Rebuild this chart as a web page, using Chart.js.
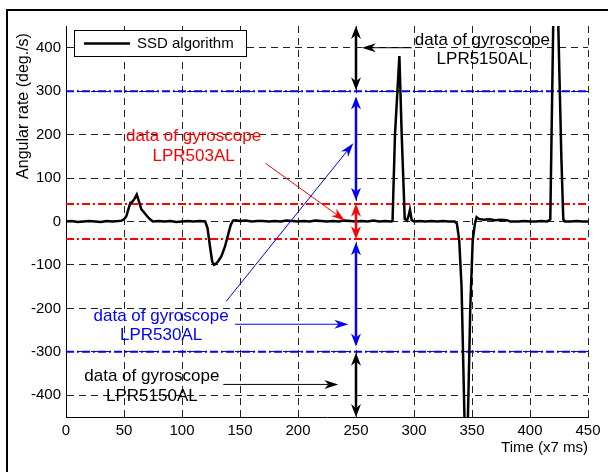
<!DOCTYPE html>
<html><head><meta charset="utf-8">
<script src="https://cdn.jsdelivr.net/npm/chart.js@4"></script>
<style>html,body{margin:0;padding:0;background:#fff;}#wrap{width:608px;height:472px;}</style>
</head><body><div id="wrap"><canvas id="c" width="608" height="472"></canvas></div>
<script>
// ---- data ----
const timeX = [
  0,5,10,15,20,25,30,35,40,45,
  48,50,52,54,55.5,57,59,61,63,65,67,70,73,75,
  80,85,90,95,100,105,110,115,
  120,122,124,126,127.5,129,131,134,137,140,142,144,146,
  150,155,160,165,170,175,180,185,190,195,200,205,210,215,220,225,230,235,240,245,250,255,260,265,270,275,280,
  281.5,283.6,287.4,289.4,292,294,295.5,296.5,298,300,
  305,310,315,320,325,330,335,
  337,339,341,343.5,345,346.5,348.5,350.6,352.5,354,356,
  360,365,370,375,380,383,390,395,400,405,410,415,
  417.5,420,422,424.4,427,428.7,430,
  435,440,445,450
];
const rateY = [
  0,1,-1,0,1,0,-1,1,0,1,
  2,5,12,30,43,45,52,62,45,28,22,12,4,0,
  1,0,1,-1,0,1,0,1,
  0,-15,-55,-92,-100,-98,-92,-80,-58,-28,-8,2,3,
  1,2,0,1,1,0,1,0,2,1,0,1,0,2,1,0,1,0,2,1,0,1,0,2,0,1,0,
  1,200,381,200,6,2,15,27,3,0,
  1,0,1,0,1,0,0,
  -5,-44,-150,-450,-600,-450,-200,-44,-5,10,6,
  4,5,3,4,3,0,0,1,0,0,1,0,
  5,450,700,450,150,5,0,
  0,1,0,0
];
const xTickValues = [0,50,100,150,200,250,300,350,400,450];
const yTickValues = [-400,-300,-200,-100,0,100,200,300,400];
const limitsLPR530 = [300,-300];   // blue
const limitsLPR503 = [40,-40];     // red
const seriesName = 'SSD algorithm';
const xTitle = 'Time (x7 ms)';
const yTitle = 'Angular rate (deg./s)';
const noteLine1 = 'data of gyroscope';
const noteTop = 'LPR5150AL', noteRed = 'LPR503AL', noteBlue = 'LPR530AL', noteBottom = 'LPR5150AL';

const FAM = '"Liberation Sans", Arial, Helvetica, sans-serif';
const RED = '#ff0000', BLUE = '#0000ff', BLACK = '#000000';

// annotation layout (data coordinates)
const texts = [
  {lines:[noteLine1, noteTop], x:359, y:407, color:BLACK},
  {lines:[noteLine1, noteRed], x:110, y:185, color:RED},
  {lines:[noteLine1, noteBlue], x:82, y:-229, color:BLUE},
  {lines:[noteLine1, noteBottom], x:74, y:-368, color:BLACK}
];
const thinArrows = [
  {from:[298,400], to:[255,400], color:BLACK},
  {from:[172,134], to:[240.5,2], color:RED},
  {from:[138,-184], to:[247.7,180], color:BLUE},
  {from:[145.7,-236.5], to:[243.4,-236.5], color:BLUE},
  {from:[135.6,-375], to:[234.7,-375], color:BLACK}
];
const rangeArrows = [
  {x:250, a:450, b:302, color:BLACK},
  {x:250, a:288, b:48, color:BLUE},
  {x:250, a:41, b:-41, color:RED},
  {x:250, a:-48, b:-288, color:BLUE},
  {x:250, a:-302, b:-450, color:BLACK}
];

function head(ctx, tx, ty, ang, len, hw, color){
  ctx.save(); ctx.translate(tx,ty); ctx.rotate(ang);
  ctx.beginPath(); ctx.moveTo(0,0); ctx.lineTo(-len,-hw); ctx.lineTo(-len*0.7,0); ctx.lineTo(-len,hw); ctx.closePath();
  ctx.fillStyle = color; ctx.fill(); ctx.restore();
}
function arrow(ctx,x1,y1,x2,y2,color,lw,len,hw,both){
  const ang = Math.atan2(y2-y1,x2-x1);
  const d = len*0.7;
  let sx=x1, sy=y1;
  if(both){ sx = x1+Math.cos(ang)*d; sy = y1+Math.sin(ang)*d; }
  const ex = x2-Math.cos(ang)*d, ey = y2-Math.sin(ang)*d;
  ctx.save(); ctx.strokeStyle=color; ctx.lineWidth=lw; ctx.setLineDash([]);
  ctx.beginPath(); ctx.moveTo(sx,sy); ctx.lineTo(ex,ey); ctx.stroke(); ctx.restore();
  head(ctx,x2,y2,ang,len,hw,color);
  if(both) head(ctx,x1,y1,ang+Math.PI,len,hw,color);
}

const overlay = {
  id:'overlay',
  beforeDraw(chart){
    const ctx = chart.ctx; ctx.save(); ctx.fillStyle='#fff'; ctx.fillRect(0,0,chart.width,chart.height); ctx.restore();
  },
  afterDatasetsDraw(chart){
    const {ctx, scales:{x,y}, chartArea:ca} = chart;
    rangeArrows.forEach(r=>{
      const px = x.getPixelForValue(r.x);
      arrow(ctx, px, y.getPixelForValue(r.a), px, y.getPixelForValue(r.b), r.color, 2.5, 13, 5, true);
    });
    thinArrows.forEach(a=>{
      arrow(ctx, x.getPixelForValue(a.from[0]), y.getPixelForValue(a.from[1]),
                 x.getPixelForValue(a.to[0]), y.getPixelForValue(a.to[1]), a.color, 1, 14, 4.5, false);
    });
    ctx.save();
    ctx.font = '17px ' + FAM; ctx.textAlign='center'; ctx.textBaseline='alphabetic';
    texts.forEach(t=>{
      ctx.fillStyle = t.color;
      const px = x.getPixelForValue(t.x), py = y.getPixelForValue(t.y);
      t.lines.forEach((l,i)=>ctx.fillText(l, px, py + i*19.5));
    });
    ctx.restore();
    // legend
    ctx.save();
    const lx = ca.left+8, ly = ca.top+4, lw = 172, lh = 26;
    ctx.fillStyle='#fff'; ctx.fillRect(lx,ly,lw,lh);
    ctx.strokeStyle='#000'; ctx.lineWidth=1; ctx.strokeRect(lx+0.5,ly+0.5,lw,lh);
    ctx.beginPath(); ctx.lineWidth=2.5; ctx.moveTo(lx+10, ly+13.5); ctx.lineTo(lx+56, ly+13.5); ctx.stroke();
    ctx.fillStyle='#000'; ctx.font='15px '+FAM; ctx.textAlign='left'; ctx.textBaseline='middle';
    ctx.fillText(seriesName, lx+63, ly+14);
    ctx.restore();
    // y title
    ctx.save();
    ctx.translate(24, 106); ctx.rotate(-Math.PI/2);
    ctx.fillStyle='#000'; ctx.font='16px '+FAM; ctx.textAlign='center'; ctx.textBaseline='middle';
    ctx.fillText(yTitle, 0, 0);
    ctx.restore();
  },
  afterDraw(chart){
    const ctx = chart.ctx; ctx.save(); ctx.fillStyle='#000';
    ctx.fillRect(6,9,602,2); ctx.fillRect(6,9,2,463); ctx.restore();
  }
};

const limitDataset = (v,color) => ({
  data:[{x:0,y:v},{x:450,y:v}], borderColor:color, borderWidth:2, borderDash:[8,3,2,3],
  pointRadius:0, tension:0, order:2
});

const tickFont = {size:15, family:FAM};
new Chart(document.getElementById('c'), {
  type:'line',
  data:{datasets:[
    {label:seriesName, data: timeX.map((t,i)=>({x:t,y:rateY[i]})), borderColor:BLACK, borderWidth:2.5,
     pointRadius:0, tension:0, order:0},
    ...limitsLPR530.map(v=>limitDataset(v,BLUE)),
    ...limitsLPR503.map(v=>limitDataset(v,RED))
  ]},
  options:{
    responsive:false, animation:false, devicePixelRatio:1,
    layout:{padding:{left:0,right:20,top:26,bottom:0}},
    plugins:{legend:{display:false}, tooltip:{enabled:false}},
    scales:{
      x:{type:'linear', min:0, max:450,
        afterBuildTicks:s=>{s.ticks = xTickValues.map(v=>({value:v}));},
        afterFit:s=>{s.height=55;},
        ticks:{padding:5, color:'#000', font:tickFont, maxRotation:0, autoSkip:false},
        grid:{color:'#222', lineWidth:1, drawTicks:false},
        border:{display:true, color:'#000', width:1, dash:[7,5]},
        title:{display:true, text:xTitle, align:'end', color:'#000', font:tickFont, padding:{top:0,bottom:15}}
      },
      y:{type:'linear', min:-450, max:450,
        afterBuildTicks:s=>{s.ticks = yTickValues.map(v=>({value:v}));},
        afterFit:s=>{s.width=66;},
        ticks:{padding:5, color:'#000', font:tickFont, autoSkip:false},
        grid:{color:'#222', lineWidth:1, drawTicks:false},
        border:{display:true, color:'#000', width:1, dash:[7,5]}
      }
    }
  },
  plugins:[overlay]
});
</script></body></html>
